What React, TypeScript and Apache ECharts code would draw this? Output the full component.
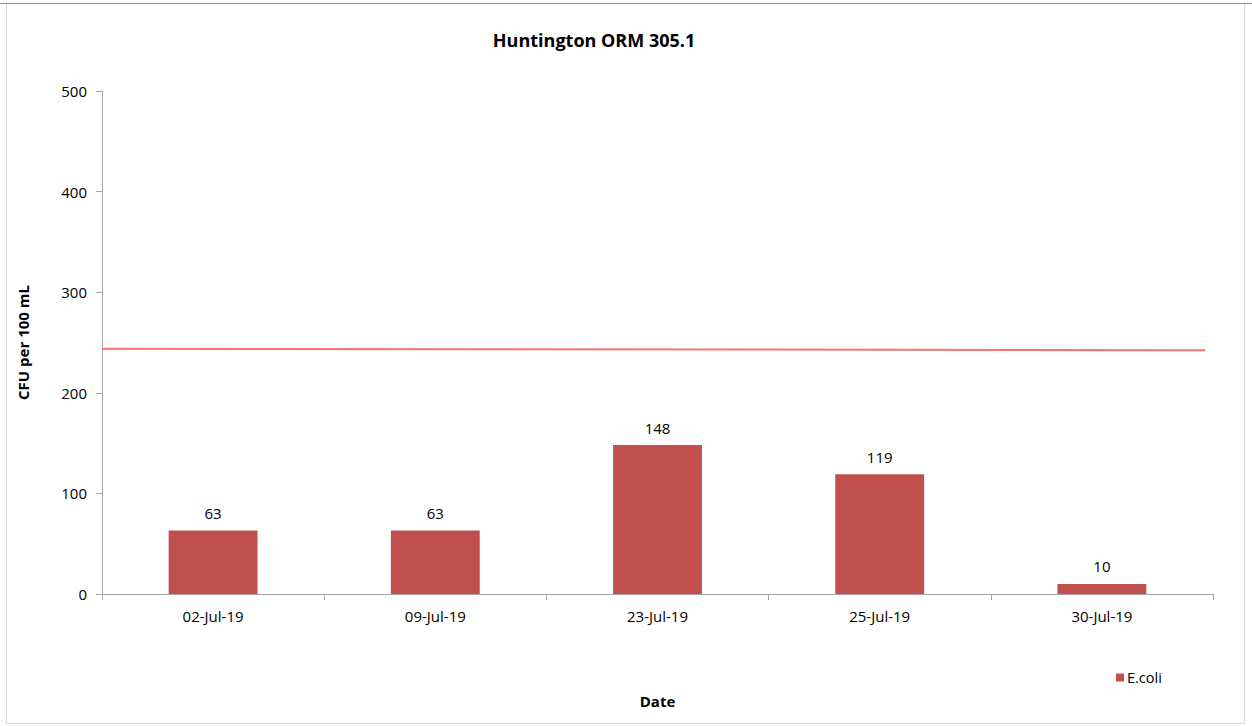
import React, { useEffect, useRef } from "react";
import * as echarts from "echarts";

const categories = ["02-Jul-19", "09-Jul-19", "23-Jul-19", "25-Jul-19", "30-Jul-19"];
const ecoliValues = [63, 63, 148, 119, 10];
const thresholdLine = [
  [0, 243.8],
  [0.993, 242.4],
];
const yTicks = { min: 0, max: 500, interval: 100 };

export default function App() {
  const ref = useRef<HTMLDivElement>(null);
  useEffect(() => {
    if (!ref.current) return;
    const chart = echarts.init(ref.current, null, { renderer: "svg" });
    const font = "'Open Sans', 'Liberation Sans', sans-serif";
    chart.setOption({
      animation: false,
      textStyle: { fontFamily: font },
      title: {
        text: "Huntington ORM 305.1",
        left: 589,
        top: 26,
        textAlign: "center",
        textStyle: { fontSize: 18, fontWeight: "bold", color: "#000", fontFamily: font },
      },
      graphic: [
        {
          type: "rect",
          shape: { x: 6.5, y: 3.5, width: 1238, height: 720 },
          style: { fill: "none", stroke: "#d9d9d9", lineWidth: 1 },
          silent: true,
        },
        {
          type: "line",
          shape: { x1: 0, y1: 3.5, x2: 1252, y2: 3.5 },
          style: { stroke: "#8c8c8c", lineWidth: 1 },
          silent: true,
        },
      ],
      legend: {
        data: [{ name: "E.coli", icon: "rect" }],
        left: 1111,
        top: 665,
        itemWidth: 8,
        itemHeight: 8,
        itemGap: 4,
        textStyle: { fontSize: 14.5, color: "#000", fontFamily: font, padding: [0, 0, 0, -2] },
      },
      grid: { left: 102, right: 39, top: 91, bottom: 132, containLabel: false },
      xAxis: [
        {
          type: "category",
          data: categories,
          name: "Date",
          nameLocation: "middle",
          nameGap: 99,
          nameTextStyle: { fontSize: 15, fontWeight: "bold", color: "#000", fontFamily: font },
          axisLine: { lineStyle: { color: "#a6a6a6" } },
          axisTick: { show: true, length: 6, lineStyle: { color: "#a6a6a6" } },
          axisLabel: { fontSize: 15, color: "#000", margin: 14, fontFamily: font },
        },
        {
          type: "value",
          min: 0,
          max: 1,
          show: false,
        },
      ],
      yAxis: {
        type: "value",
        min: yTicks.min,
        max: yTicks.max,
        interval: yTicks.interval,
        name: "CFU per 100 mL",
        nameLocation: "middle",
        nameGap: 72,
        nameTextStyle: { fontSize: 15, fontWeight: "bold", color: "#000", fontFamily: font },
        splitLine: { show: false },
        axisLine: { show: true, lineStyle: { color: "#a6a6a6" } },
        axisTick: { show: true, length: 6, lineStyle: { color: "#a6a6a6" } },
        axisLabel: { fontSize: 15, color: "#000", margin: 15, fontFamily: font },
      },
      series: [
        {
          name: "E.coli",
          type: "bar",
          data: ecoliValues,
          barWidth: "40%",
          itemStyle: { color: "#c0504d" },
          label: { show: true, position: "top", distance: 10, fontSize: 15, color: "#000", fontFamily: font },
        },
        {
          name: "threshold",
          type: "line",
          xAxisIndex: 1,
          data: thresholdLine,
          symbol: "none",
          lineStyle: { color: "#f87272", width: 2 },
          silent: true,
        },
      ],
    });
    return () => chart.dispose();
  }, []);
  return (
    <div
      ref={ref}
      style={{ position: "fixed", left: 0, top: 0, width: 1252, height: 726, background: "#fff" }}
    />
  );
}
